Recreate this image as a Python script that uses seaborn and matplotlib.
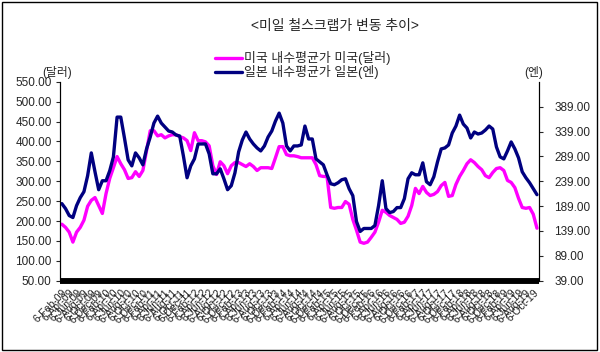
import matplotlib
matplotlib.use("Agg")
import matplotlib.pyplot as plt
import seaborn as sns
import pandas as pd
from matplotlib.patches import Rectangle

# monthly points, Jan 2009 .. Oct 2019
dates = pd.date_range("2009-01-06", periods=130, freq="MS") + pd.Timedelta(days=5)
date_labels = [f"{d.day}-{d:%b-%y}" for d in dates]

# US domestic average price (USD/ton), left axis
us_price = [
    192, 184, 172, 147, 172, 184, 202, 237, 252, 259,
    239, 219, 269, 307, 334, 362, 344, 329, 307, 309,
    324, 312, 327, 377, 427, 427, 414, 417, 409, 414,
    417, 417, 412, 409, 402, 377, 422, 402, 402, 399,
    389, 339, 317, 349, 339, 319, 339, 347, 347, 342,
    337, 344, 337, 327, 334, 334, 334, 332, 359, 387,
    387, 367, 364, 364, 362, 359, 359, 359, 359, 342,
    314, 312, 312, 234, 232, 234, 234, 249, 242, 204,
    177, 147, 144, 147, 159, 172, 197, 227, 222, 214,
    209, 204, 194, 197, 212, 239, 282, 269, 287, 272,
    264, 267, 274, 289, 297, 262, 264, 292, 312, 327,
    344, 354, 347, 337, 329, 314, 309, 322, 332, 334,
    327, 302, 297, 284, 257, 234, 232, 234, 217, 182,
]

# Japan domestic average price (JPY/kg), right axis
jp_price = [
    194, 184, 170, 166, 190, 206, 218, 250, 296, 258,
    222, 240, 240, 260, 288, 368, 368, 326, 282, 270,
    296, 286, 272, 304, 328, 356, 370, 356, 348, 340,
    338, 332, 330, 290, 246, 270, 284, 314, 314, 314,
    294, 254, 254, 264, 244, 222, 230, 256, 298, 322,
    338, 324, 314, 306, 300, 310, 328, 340, 360, 376,
    356, 310, 300, 310, 310, 312, 350, 324, 324, 284,
    278, 272, 252, 234, 232, 236, 242, 244, 224, 210,
    158, 138, 144, 144, 144, 150, 190, 240, 184, 176,
    178, 186, 186, 204, 244, 256, 252, 252, 276, 238,
    232, 248, 278, 304, 306, 312, 336, 350, 372, 354,
    346, 326, 338, 334, 336, 342, 350, 344, 308, 288,
    284, 300, 318, 304, 286, 258, 246, 236, 224, 212,
]

left_ticks = [50, 100, 150, 200, 250, 300, 350, 400, 450, 500, 550]
right_ticks = [39, 89, 139, 189, 239, 289, 339, 389]

us_name = "미국 내수평균가 미국(달러)"
jp_name = "일본 내수평균가 일본(엔)"

df = pd.DataFrame({"idx": range(len(dates)), "us": us_price, "jp": jp_price})

sns.set_style("white")
plt.rcParams["font.family"] = ["Liberation Sans", "Noto Sans CJK KR", "DejaVu Sans"]

fig = plt.figure(figsize=(6, 3.52), dpi=100)
ax = fig.add_axes([0.1, 0.2026, 0.798, 0.565])
ax2 = ax.twinx()

sns.lineplot(data=df, x="idx", y="us", ax=ax, color="#FF00FF", linewidth=2.4,
             label=us_name, legend=False)
sns.lineplot(data=df, x="idx", y="jp", ax=ax2, color="#000080", linewidth=2.4,
             label=jp_name, legend=False)

ax.set_xlim(-0.5, len(dates) - 0.5)
ax.set_ylim(50, 550)
ax2.set_ylim(39, 439)

ax.set_yticks(left_ticks)
ax.set_yticklabels([f"{v:.2f}" for v in left_ticks], fontsize=8.5)
ax2.set_yticks(right_ticks)
ax2.set_yticklabels([f"{v:.2f}" for v in right_ticks], fontsize=8.5)

step = 2
ax.set_xticks(range(0, len(dates), step))
ax.set_xticklabels(date_labels[::step], rotation=45, ha="right",
                   rotation_mode="anchor", fontsize=7.5, color="#222222")

ax.set_xlabel("")
ax.set_ylabel("")
ax2.set_ylabel("")

for a in (ax, ax2):
    a.spines["top"].set_visible(False)
    a.spines["left"].set_color("black")
    a.spines["right"].set_color("black")
    a.spines["left"].set_linewidth(0.8)
    a.spines["right"].set_linewidth(0.8)
    a.spines["bottom"].set_color("black")
    a.spines["bottom"].set_linewidth(4)
    a.spines["bottom"].set_capstyle("butt")
    a.grid(False)

ax.tick_params(axis="y", direction="out", length=3, width=0.8, pad=3, left=True)
ax2.tick_params(axis="y", direction="out", length=3, width=0.8, pad=8, right=True)
ax.tick_params(axis="x", length=0, pad=5)

fig.text(0.558, 0.926, "<미일 철스크랩가 변동 추이>", ha="center", va="center", fontsize=10)
fig.text(0.095, 0.795, "(달러)", ha="center", va="center", fontsize=8.5)
fig.text(0.89, 0.795, "(엔)", ha="center", va="center", fontsize=8.5)

h1, l1 = ax.get_legend_handles_labels()
h2, l2 = ax2.get_legend_handles_labels()
fig.legend(h1 + h2, l1 + l2, loc="center", bbox_to_anchor=(0.505, 0.815),
           frameon=False, fontsize=9.3, handlelength=2.1, handletextpad=0.15,
           labelspacing=0.0, borderaxespad=0)

fig.patches.append(Rectangle((0.004, 0.006), 0.991, 0.988, transform=fig.transFigure,
                             fill=False, edgecolor="black", linewidth=1))

fig.savefig("out.png", dpi=100)
